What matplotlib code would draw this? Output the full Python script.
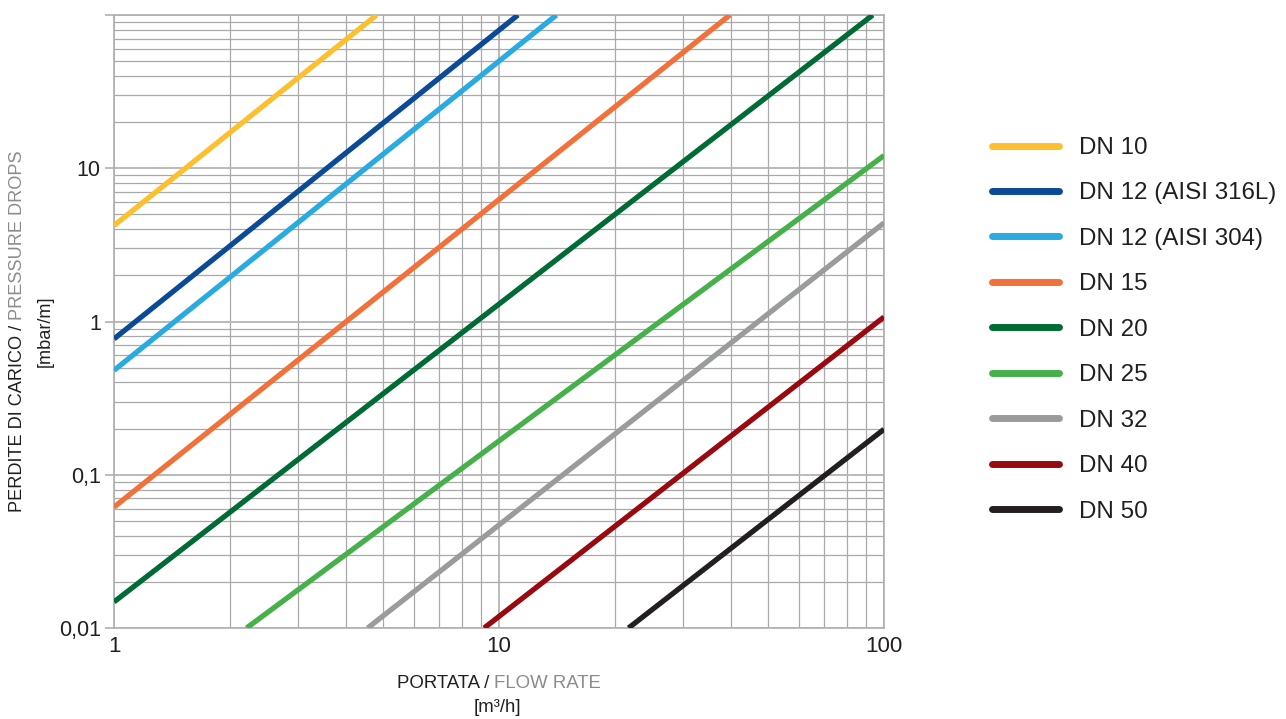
import matplotlib
matplotlib.use("Agg")
import matplotlib.pyplot as plt
from matplotlib.lines import Line2D
from matplotlib.ticker import LogLocator, NullFormatter, FixedLocator, FixedFormatter

plt.rcParams['font.family'] = ['Liberation Sans', 'DejaVu Sans']

# ---- data ----
labels = ["DN 10", "DN 12 (AISI 316L)", "DN 12 (AISI 304)", "DN 15", "DN 20",
          "DN 25", "DN 32", "DN 40", "DN 50"]
colors = ["#fcc02e", "#0b4a96", "#29abe2", "#f2703a", "#006b35",
          "#46b14b", "#9a9b9d", "#980a10", "#231f20"]
# each series is a straight line on log-log axes: start point and end point
x_start = [1.0, 1.0, 1.0, 1.0, 1.0, 2.21, 4.56, 9.15, 21.7]
y_start = [4.23, 0.77, 0.48, 0.0615, 0.0148, 0.01, 0.01, 0.01, 0.01]
x_end = [4.81, 11.2, 14.1, 39.8, 93.5, 100.0, 100.0, 100.0, 100.0]
y_end = [100.0, 100.0, 100.0, 100.0, 100.0, 12.1, 4.4, 1.07, 0.198]

y_ticks = [0.01, 0.1, 1, 10, 100]
y_ticklabels = ["0,01", "0,1", "1", "10", ""]
x_ticks = [1, 10, 100]
x_ticklabels = ["1", "10", "100"]

TXT = "#231f20"
GRAY_TXT = "#8c8c8c"
GRID = "#a9a9a9"

W, H = 1286, 719
fig = plt.figure(figsize=(W / 100, H / 100), dpi=100)
ax = fig.add_axes([114 / W, 1 - 628 / H, (884 - 114) / W, (628 - 15) / H])

ax.set_xscale("log")
ax.set_yscale("log")
ax.set_xlim(1, 100)
ax.set_ylim(0.01, 100)

for xs, ys, xe, ye, c in zip(x_start, y_start, x_end, y_end, colors):
    ax.plot([xs, xe], [ys, ye], color=c, lw=3.8, solid_capstyle="butt", zorder=3)

ax.xaxis.set_major_locator(FixedLocator(x_ticks))
ax.xaxis.set_major_formatter(FixedFormatter(x_ticklabels))
ax.yaxis.set_major_locator(FixedLocator(y_ticks))
ax.yaxis.set_major_formatter(FixedFormatter(y_ticklabels))
ax.xaxis.set_minor_locator(LogLocator(base=10, subs=range(2, 10), numticks=20))
ax.yaxis.set_minor_locator(LogLocator(base=10, subs=range(2, 10), numticks=20))
ax.xaxis.set_minor_formatter(NullFormatter())
ax.yaxis.set_minor_formatter(NullFormatter())

ax.grid(which="major", color="#b4b4b4", lw=1.3, zorder=1)
ax.grid(which="minor", color=GRID, lw=0.9, zorder=1)
ax.set_axisbelow(True)

for s in ax.spines.values():
    s.set_color("#b0b0b0")
    s.set_linewidth(1.2)

ax.tick_params(axis="y", which="major", length=6.5, width=1.2, color="#b0b0b0",
               pad=3, labelsize=15.5, labelcolor=TXT)
ax.tick_params(axis="x", which="major", length=0, pad=6, labelsize=16, labelcolor=TXT)
ax.tick_params(which="minor", length=0)

# axis labels (two-colour)
t1 = fig.text(397 / W, 1 - 683 / H, "PORTATA / ", color=TXT, fontsize=13.4,
              ha="left", va="center")
ax.annotate("FLOW RATE", xy=(1, 0), xycoords=t1, ha="left", va="bottom",
            color=GRAY_TXT, fontsize=13.4, annotation_clip=False)
fig.text(497 / W, 1 - 707 / H, "[m³/h]", color=TXT, fontsize=13.4, ha="center", va="center")

t2 = fig.text(17.5 / W, 1 - 512 / H, "PERDITE DI CARICO / ", color=TXT, fontsize=13.1,
              rotation=90, ha="center", va="bottom")
ax.annotate("PRESSURE DROPS", xy=(0, 1), xycoords=t2, ha="left", va="bottom",
            rotation=90, color=GRAY_TXT, fontsize=13.1, annotation_clip=False)
fig.text(45 / W, 1 - 331 / H, "[mbar/m]", color=TXT, fontsize=13.1, rotation=90,
         ha="center", va="center")

# legend
handles = [Line2D([0], [0], color=c, lw=5, solid_capstyle="round") for c in colors]
fig.legend(handles, labels, loc="upper left", bbox_to_anchor=(992 / W, 1 - 137 / H),
           frameon=False, fontsize=17.4, handlelength=2.77, handletextpad=0.83,
           labelspacing=0.97, borderpad=0, borderaxespad=0, labelcolor=TXT)

fig.savefig("out.png", dpi=100)
